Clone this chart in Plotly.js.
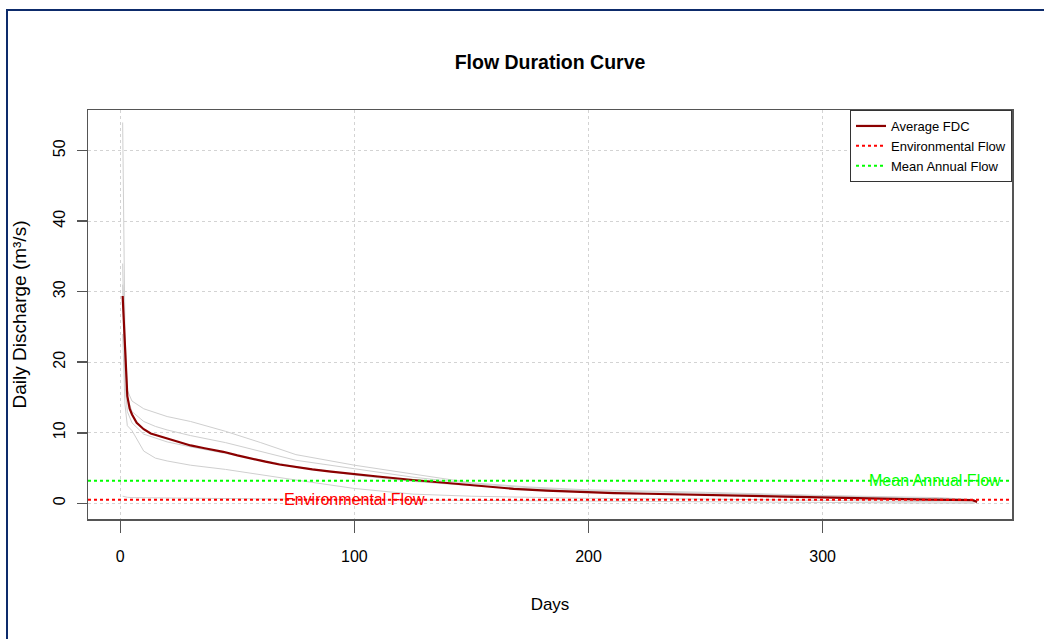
<!DOCTYPE html>
<html>
<head>
<meta charset="utf-8">
<script src="https://cdn.plot.ly/plotly-3.0.1.min.js"></script>
<style>
  html, body { margin: 0; padding: 0; background: #ffffff; overflow: hidden; }
  #wrap { position: relative; width: 1044px; height: 639px; }
  #chart { position: absolute; left: 0; top: 0; width: 1044px; height: 639px; }
  #frame { position: absolute; left: 6px; top: 9px; width: 1100px; height: 700px;
           border-top: 2px solid #0d2b6b; border-left: 2px solid #0d2b6b; pointer-events: none; }
</style>
</head>
<body>
<div id="wrap">
  <div id="chart"></div>
  <div id="frame"></div>
</div>
<script>
// ---- Data ----
const yearDays = [1, 2, 3, 5, 10, 15, 20, 30, 45, 60, 75, 100, 125, 150, 175, 200, 250, 300, 350, 365];
const year1 = [54.0, 24.0, 16.0, 14.5, 13.4, 12.8, 12.3, 11.6, 10.2, 8.6, 6.9, 5.4, 4.2, 2.9, 2.3, 1.9, 1.55, 1.1, 0.8, 0.5];
const year2 = [34.0, 19.0, 15.0, 13.0, 11.6, 10.9, 10.4, 9.6, 8.6, 7.3, 6.1, 4.9, 3.7, 2.8, 2.2, 1.8, 1.4, 1.0, 0.7, 0.4];
const year3 = [31.0, 17.0, 13.0, 11.4, 9.8, 9.2, 8.7, 8.0, 7.1, 6.2, 5.2, 4.0, 3.1, 2.5, 2.0, 1.6, 1.2, 0.8, 0.6, 0.4];
const year4 = [24.0, 14.0, 11.0, 10.3, 7.4, 6.4, 6.0, 5.4, 4.8, 4.1, 3.3, 2.1, 1.3, 1.0, 0.8, 0.7, 0.6, 0.45, 0.3, 0.15];
const year5 = [1.0, 0.9, 0.85, 0.8, 0.78, 0.76, 0.75, 0.74, 0.72, 0.65, 0.6, 0.5, 0.45, 0.4, 0.35, 0.3, 0.2, 0.1, 0.05, 0.0];
const yearSeries = [year1, year2, year3, year4, year5];

const avgDays = [1, 2, 3, 4, 5, 7, 10, 13, 16, 20, 25, 30, 36, 44, 50, 55, 62, 68, 75, 82, 90, 99, 110, 125, 140, 154, 168, 182, 196, 211, 225, 238, 252, 265, 280, 299, 315, 330, 345, 358, 364, 366];
const avgFDC = [29.4, 21.0, 15.2, 13.4, 12.6, 11.4, 10.5, 9.9, 9.6, 9.2, 8.7, 8.2, 7.8, 7.3, 6.8, 6.4, 5.9, 5.5, 5.1, 4.8, 4.5, 4.15, 3.8, 3.3, 2.85, 2.4, 2.05, 1.8, 1.6, 1.45, 1.35, 1.25, 1.2, 1.1, 0.95, 0.82, 0.72, 0.62, 0.53, 0.47, 0.44, 0.2];

const envFlow = 0.5;
const meanAnnualFlow = 3.2;

const xTicks = [0, 100, 200, 300];
const yTicks = [0, 10, 20, 30, 40, 50];
const xRange = [-13.8, 380.9];
const yRange = [-2.23, 55.77];

const envLabelX = 100;
const mafLabelX = 348;

// ---- Traces ----
const font = 'Liberation Sans, Arial, sans-serif';
const traces = [];
yearSeries.forEach(function (ys) {
  traces.push({
    x: yearDays, y: ys, type: 'scatter', mode: 'lines',
    line: { color: '#cfcfcf', width: 1 },
    showlegend: false, hoverinfo: 'skip'
  });
});
traces.push({
  x: avgDays, y: avgFDC, type: 'scatter', mode: 'lines', name: 'Average FDC',
  line: { color: '#8b0000', width: 2.2 }
});
traces.push({
  x: xRange, y: [envFlow, envFlow], type: 'scatter', mode: 'lines', name: 'Environmental Flow',
  line: { color: '#ff0000', width: 2, dash: 'dot' }
});
traces.push({
  x: xRange, y: [meanAnnualFlow, meanAnnualFlow], type: 'scatter', mode: 'lines', name: 'Mean Annual Flow',
  line: { color: '#00ff00', width: 2, dash: 'dot' }
});

const layout = {
  width: 1044, height: 639,
  paper_bgcolor: '#ffffff', plot_bgcolor: '#ffffff',
  margin: { l: 88, r: 32, t: 110, b: 120 },
  font: { family: font, color: '#000000' },
  title: {
    text: '<b>Flow Duration Curve</b>',
    font: { family: font, size: 19.5, color: '#000000' },
    xref: 'paper', x: 0.5, xanchor: 'center',
    yref: 'container', y: 1 - 62 / 639, yanchor: 'middle'
  },
  xaxis: {
    range: xRange, tickvals: xTicks, ticktext: xTicks.map(String),
    showgrid: true, gridcolor: '#d3d3d3', griddash: 'dot', gridwidth: 1,
    zeroline: false, showline: true, linecolor: '#555555', linewidth: 1.5, mirror: true,
    ticks: 'outside', ticklen: 12, tickcolor: '#555555', tickwidth: 1.5,
    tickfont: { family: font, size: 16, color: '#000000' },
    ticklabelstandoff: 10,
    title: { text: 'Days', font: { family: font, size: 17, color: '#000000' }, standoff: 34 }
  },
  yaxis: {
    range: yRange, tickvals: yTicks, ticktext: yTicks.map(String),
    showgrid: true, gridcolor: '#d3d3d3', griddash: 'dot', gridwidth: 1,
    zeroline: false, showline: true, linecolor: '#555555', linewidth: 1.5, mirror: true,
    ticks: 'outside', ticklen: 10, tickcolor: '#555555', tickwidth: 1.5,
    tickangle: -90,
    tickfont: { family: font, size: 16, color: '#000000' },
    ticklabelstandoff: 5,
    title: { text: 'Daily Discharge (m³/s)', font: { family: font, size: 19, color: '#000000' }, standoff: 19 }
  },
  legend: {
    x: 1, xanchor: 'right', y: 1, yanchor: 'top',
    bgcolor: '#ffffff', bordercolor: '#333333', borderwidth: 1,
    font: { family: font, size: 13, color: '#000000' },
    tracegroupgap: 0, itemwidth: 30
  },
  annotations: [
    { x: envLabelX, y: envFlow, xref: 'x', yref: 'y', text: 'Environmental Flow', showarrow: false,
      font: { family: font, size: 16, color: '#ff0000' }, xanchor: 'center', yanchor: 'middle' },
    { x: mafLabelX, y: meanAnnualFlow, xref: 'x', yref: 'y', text: 'Mean Annual Flow', showarrow: false,
      font: { family: font, size: 16, color: '#00ff00' }, xanchor: 'center', yanchor: 'middle' }
  ],
  showlegend: true
};

Plotly.newPlot('chart', traces, layout, { displayModeBar: false, staticPlot: true });
</script>
</body>
</html>
